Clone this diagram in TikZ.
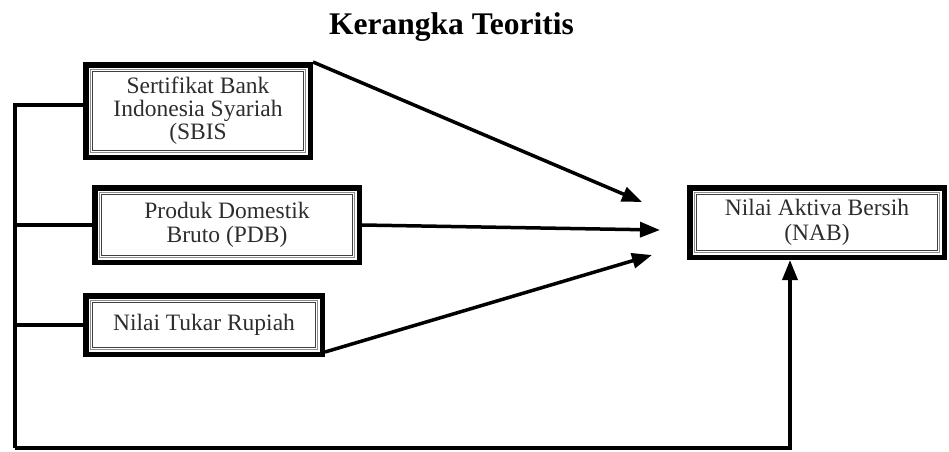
\documentclass[tikz,border=0pt]{standalone}
\usepackage{fontspec}
\setmainfont{Liberation Serif}
\usetikzlibrary{arrows.meta, positioning}
\definecolor{boxtext}{RGB}{45,45,45}

\begin{document}
\begin{tikzpicture}[x=1pt, y=1pt]
        \tikzstyle{varbox} = [rectangle, draw=black, line width=5.5pt, inner sep=0pt, align=center, text=boxtext,
            font=\fontsize{23.5}{23.5}\selectfont,
            path picture={
                \draw[line width=1pt, black!45] ([shift={(4.5pt,-4.5pt)}]path picture bounding box.north west) rectangle ([shift={(-4.5pt,4.5pt)}]path picture bounding box.south east);
                \draw[line width=0.9pt, black!75] ([shift={(6.9pt,-6.9pt)}]path picture bounding box.north west) rectangle ([shift={(-6.9pt,6.9pt)}]path picture bounding box.south east);
            }]
        \tikzstyle{linkline} = [line width=3.5pt, line join=miter]
        \tikzstyle{flowarrow} = [line width=3.5pt, -{Triangle[length=20pt, width=15pt]}]
        \useasboundingbox (0,0) rectangle (949,451);

        \node (title) at (451.5,417) [anchor=base, font=\bfseries\fontsize{31.5}{31.5}\selectfont] {Kerangka Teoritis};

        \node (sbis) at (198,340) [varbox, minimum width=224.5pt, minimum height=92.5pt] {Sertifikat Bank\\[-0.5pt]Indonesia Syariah\\[-0.5pt](SBIS};
        \node (pdb) at (227,226) [varbox, minimum width=264.5pt, minimum height=74.5pt] {Produk Domestik\\[1pt]Bruto (PDB)};
        \node (ntr) at (204,126) [varbox, minimum width=236.5pt, minimum height=58.5pt] {Nilai Tukar Rupiah};
        \node (nab) at (817,228.5) [varbox, minimum width=254.5pt, minimum height=69.5pt] {Nilai Aktiva Bersih\\[2pt](NAB)};

        % arrow tips in front of NAB
        \coordinate (tip1) at (642,249);
        \coordinate (tip2) at (660,221);
        \coordinate (tip3) at (652,196);
        \coordinate (bl) at (15,3);

        \draw [flowarrow] (sbis.north east) -- (tip1);
        \draw [flowarrow] (pdb.east) -- (tip2);
        \draw [flowarrow] ([yshift=5pt]ntr.south east) -- (tip3);

        \draw [linkline] ([yshift=6pt]sbis.west) -| (bl);
        \draw [linkline] (pdb.west) -- (pdb.west -| bl);
        \draw [linkline] (ntr.west) -- (ntr.west -| bl);
        \draw [flowarrow] (bl) -| ([xshift=-27pt]nab.south);
    \end{tikzpicture}
\end{document}
